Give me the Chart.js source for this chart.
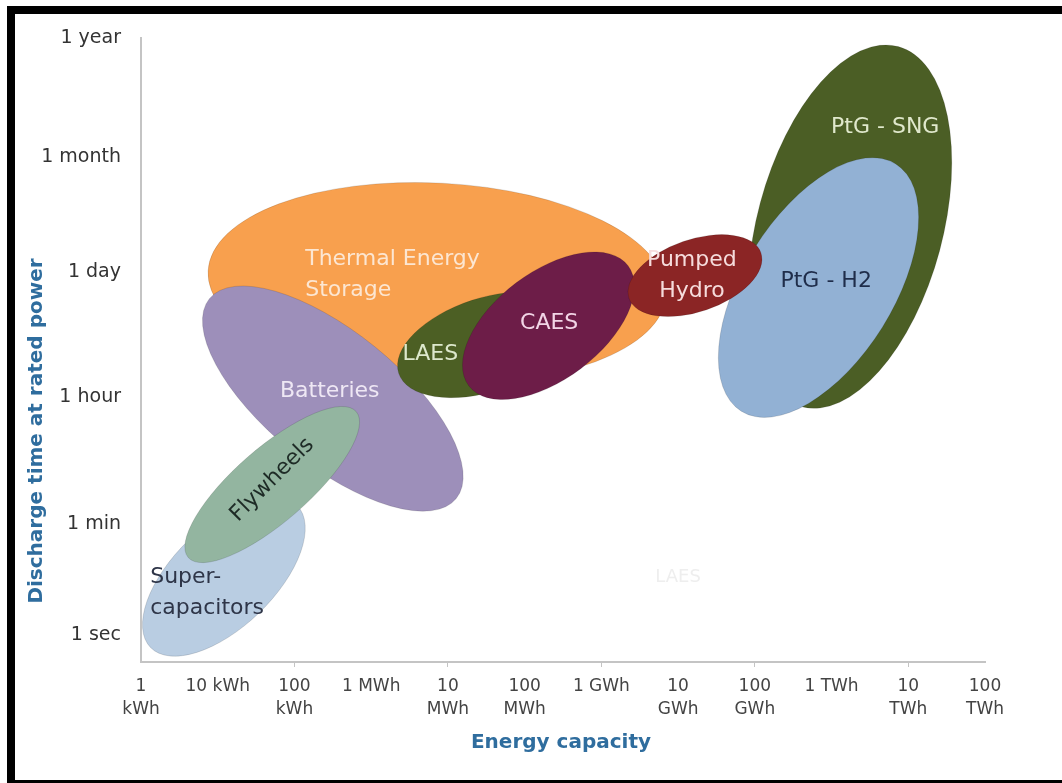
<!DOCTYPE html>
<html>
<head>
<meta charset="utf-8">
<title>Energy storage technologies</title>
<script src="https://cdn.jsdelivr.net/npm/chart.js@4.4.1/dist/chart.umd.min.js"></script>
<style>
    html, body {
        margin: 0;
        padding: 0;
        background: #fff;
        overflow: hidden;
    }
    #wrap {
        position: relative;
        width: 1062px;
        height: 783px;
    }
    #storageChart {
        position: absolute;
        left: 0;
        top: 0;
    }
    #frame {
        position: absolute;
        left: 7px;
        top: 6px;
        width: 1100px;
        height: 782px;
        box-sizing: border-box;
        border-top: 8px solid #000;
        border-left: 8px solid #000;
        border-bottom: 8px solid #000;
        pointer-events: none;
    }
</style>
</head>
<body>
<div id="wrap">
    <canvas id="storageChart" width="1062" height="783"></canvas>
    <div id="frame"></div>
</div>
<script>
// Energy capacity axis: decades above 1 kWh
const energyTicks = [0, 1, 2, 3, 4, 5, 6, 7, 8, 9, 10, 11];
const energyLabels = [
    ['1', 'kWh'], '10 kWh', ['100', 'kWh'], '1 MWh', ['10', 'MWh'], ['100', 'MWh'],
    '1 GWh', ['10', 'GWh'], ['100', 'GWh'], '1 TWh', ['10', 'TWh'], ['100', 'TWh']
];

// Discharge time axis (hand placed in the source diagram)
const timeTicks = [0, 0.93, 1.99, 3.04, 4.0, 5.0];
const timeLabels = ['1 sec', '1 min', '1 hour', '1 day', '1 month', '1 year'];

// Technologies, back to front
const technologies = ['PtG - SNG', 'PtG - H2', 'Thermal Energy Storage', 'Batteries',
    'Super-capacitors', 'Flywheels', 'LAES', 'CAES', 'Pumped Hydro'];
const centerCapacity = [9.24, 8.83, 3.86, 2.50, 1.08, 1.71, 4.50, 5.31, 7.22];
const centerTime = [3.42, 2.91, 2.95, 1.98, 0.49, 1.26, 2.43, 2.59, 3.01];
const spanMajor = [2.43, 1.90, 2.99, 2.07, 1.33, 1.45, 1.20, 1.30, 0.91];
const spanMinor = [1.21, 0.98, 1.30, 0.87, 0.66, 0.48, 0.61, 0.70, 0.47];
const tiltDeg = [75, 58, -3, -39, 44, 41, 18, 37, 19];

// Label anchors (same units as the axes)
const labelLines = [['PtG - SNG'], ['PtG - H2'], ['Thermal Energy', 'Storage'], ['Batteries'],
    ['Super-', 'capacitors'], ['Flywheels'], ['LAES'], ['CAES'], ['Pumped', 'Hydro']];
const labelCapacity = [9.70, 8.93, 2.14, 2.46, 0.12, 1.71, 3.77, 5.32, 7.18];
const labelTime = [4.25, 2.96, 3.02, 2.04, 0.35, 1.30, 2.35, 2.61, 3.01];

// Colours
const FILL_COLORS = ['#4b5e25', '#92b1d4', '#f8a04e', '#9d8fba', '#b9cde2',
    '#93b5a0', '#4c5f24', '#6d1d48', '#8b2525'];
const LABEL_COLORS = ['#e0e8cc', '#1f2d4a', '#fce6d2', '#eee7f4', '#2e3548',
    '#1e2b26', '#dde8cc', '#f2d5e6', '#f6dcdc'];
const LABEL_ALIGN = ['center', 'center', 'left', 'center', 'left', 'center', 'center', 'center', 'center'];
const LABEL_ROTATION = [0, 0, 0, 0, 0, -45, 0, 0, 0];

const AXIS_BLUE = '#2f6d9e';

/**
 * Draw the technology ellipses through the chart scales
 */
const ellipsePlugin = {
    id: 'ellipses',
    beforeDatasetsDraw(chart) {
        const { ctx, scales: { x, y } } = chart;
        const unit = x.getPixelForValue(1) - x.getPixelForValue(0);

        technologies.forEach((name, i) => {
            ctx.save();
            ctx.beginPath();
            ctx.ellipse(
                x.getPixelForValue(centerCapacity[i]),
                y.getPixelForValue(centerTime[i]),
                spanMajor[i] * unit,
                spanMinor[i] * unit,
                -tiltDeg[i] * Math.PI / 180,
                0, Math.PI * 2
            );
            ctx.fillStyle = FILL_COLORS[i];
            ctx.fill();
            ctx.lineWidth = 1;
            ctx.strokeStyle = 'rgba(0, 0, 0, 0.12)';
            ctx.stroke();
            ctx.restore();
        });
    },
    afterDatasetsDraw(chart) {
        const { ctx, scales: { x, y } } = chart;

        technologies.forEach((name, i) => {
            const lines = labelLines[i];
            const lineHeight = 31;
            ctx.save();
            ctx.translate(x.getPixelForValue(labelCapacity[i]), y.getPixelForValue(labelTime[i]));
            ctx.rotate(LABEL_ROTATION[i] * Math.PI / 180);
            ctx.font = '22px "DejaVu Sans"';
            ctx.fillStyle = LABEL_COLORS[i];
            ctx.textAlign = LABEL_ALIGN[i];
            ctx.textBaseline = 'middle';
            lines.forEach((line, k) => {
                ctx.fillText(line, 0, (k - (lines.length - 1) / 2) * lineHeight);
            });
            ctx.restore();
        });

        // faint watermark left over in the source picture
        ctx.save();
        ctx.font = '18px "DejaVu Sans"';
        ctx.fillStyle = '#eeeeee';
        ctx.textAlign = 'center';
        ctx.textBaseline = 'middle';
        ctx.fillText('LAES', x.getPixelForValue(7.0), y.getPixelForValue(0.48));
        ctx.restore();
    }
};

/**
 * Axis titles
 */
const axisTitlePlugin = {
    id: 'axisTitles',
    afterDraw(chart) {
        const { ctx, chartArea } = chart;
        ctx.save();
        ctx.font = 'bold 20px "DejaVu Sans"';
        ctx.fillStyle = AXIS_BLUE;
        ctx.textAlign = 'center';
        ctx.textBaseline = 'middle';
        ctx.fillText('Energy capacity', 561, chartArea.bottom + 81);

        ctx.translate(37, 431);
        ctx.rotate(-Math.PI / 2);
        ctx.fillText('Discharge time at rated power', 0, 0);
        ctx.restore();
    }
};

function renderStorageChart() {
    const ctx = document.getElementById('storageChart');

    new Chart(ctx, {
        type: 'scatter',
        data: {
            datasets: [{
                label: 'Technologies',
                data: technologies.map((t, i) => ({ x: centerCapacity[i], y: centerTime[i] })),
                pointRadius: 0,
                pointHoverRadius: 0
            }]
        },
        options: {
            responsive: false,
            animation: false,
            events: [],
            layout: {
                padding: { top: 38, right: 77, left: 0, bottom: 0 }
            },
            plugins: {
                legend: { display: false },
                tooltip: { enabled: false }
            },
            scales: {
                x: {
                    type: 'linear',
                    min: 0,
                    max: 11,
                    afterFit: function (scale) {
                        scale.height = 121;
                    },
                    afterBuildTicks: function (scale) {
                        scale.ticks = energyTicks.map(v => ({ value: v }));
                    },
                    grid: {
                        drawOnChartArea: false,
                        drawTicks: true,
                        tickLength: 5,
                        color: function (context) {
                            return (context.index % 2 === 0 && context.index > 0) ? '#c4c4c4' : 'rgba(0,0,0,0)';
                        }
                    },
                    border: {
                        display: true,
                        color: '#c4c4c4',
                        width: 2
                    },
                    ticks: {
                        autoSkip: false,
                        maxRotation: 0,
                        padding: 9,
                        color: '#444',
                        font: { family: 'DejaVu Sans', size: 17, lineHeight: 1.3 },
                        callback: function (value, index) {
                            return energyLabels[index];
                        }
                    }
                },
                y: {
                    type: 'linear',
                    min: -0.226,
                    max: 5.0,
                    afterFit: function (scale) {
                        scale.width = 141;
                    },
                    afterBuildTicks: function (scale) {
                        scale.ticks = timeTicks.map(v => ({ value: v }));
                    },
                    grid: {
                        display: false
                    },
                    border: {
                        display: true,
                        color: '#c4c4c4',
                        width: 2
                    },
                    ticks: {
                        padding: 12,
                        color: '#333',
                        font: { family: 'DejaVu Sans', size: 19 },
                        callback: function (value, index) {
                            return timeLabels[index];
                        }
                    }
                }
            }
        },
        plugins: [ellipsePlugin, axisTitlePlugin]
    });
}

renderStorageChart();
</script>
</body>
</html>
